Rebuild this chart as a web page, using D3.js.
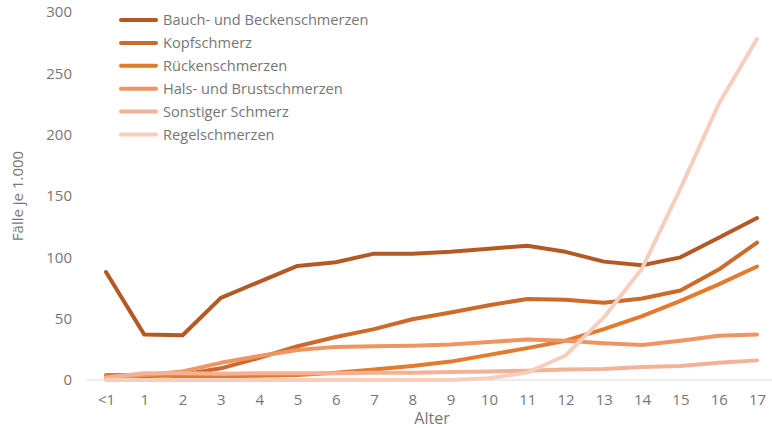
<!DOCTYPE html>
<html lang="de">
<head>
<meta charset="utf-8">
<title>Schmerzen nach Alter</title>
<script src="https://cdn.jsdelivr.net/npm/d3@7"></script>
<style>
  body { margin: 0; background: #fff; }
  .tick text, .lbl { font-family: "Open Sans", sans-serif; fill: #767676; }
</style>
</head>
<body>
<script>
var ages = ["<1","1","2","3","4","5","6","7","8","9","10","11","12","13","14","15","16","17"];
var names = ["Bauch- und Beckenschmerzen","Kopfschmerz","Rückenschmerzen","Hals- und Brustschmerzen","Sonstiger Schmerz","Regelschmerzen"];
var colors = ["#b35a24","#cc6a2a","#e47a2c","#ef9563","#f3b297","#f7cdbd"];

var bauch   = [88, 37, 36.5, 67, 80, 93, 96, 103, 103, 104.5, 107, 109.5, 104.5, 96.5, 93.5, 100, 116, 132];
var kopf    = [3, 3, 4.5, 9.5, 18, 27.5, 35, 41.5, 49.5, 55, 61, 66, 65.5, 63, 66.5, 73, 90, 112];
var ruecken = [4, 4, 3, 3, 3.5, 4, 6, 8.5, 11.5, 15, 20.5, 26, 32, 41.5, 52, 64.5, 78, 92.5];
var hals    = [1, 4, 7, 14, 19.5, 24.5, 27, 27.5, 28, 29, 31, 33, 32, 30, 28.5, 32, 36, 37];
var sonst   = [2, 5.5, 5.5, 5, 5.5, 5.5, 5.5, 6, 6, 6.5, 7, 7.5, 8.5, 9, 10.5, 11.5, 14, 16];
var regel   = [0, 0, 0, 0, 0, 0, 0, 0, 0, 0, 1.5, 6, 20, 51, 91, 156, 225, 278];
var series = [bauch, kopf, ruecken, hals, sonst, regel];
var yTicks = [0, 50, 100, 150, 200, 250, 300];

var w = 772, h = 428;
var svg = d3.select("body").append("svg").attr("width", w).attr("height", h);

var x = d3.scalePoint().domain(ages).range([106, 757]);
var y = d3.scaleLinear().domain([0, 300]).range([380, 12]);

// baseline
svg.append("line")
  .attr("x1", 87).attr("x2", 776)
  .attr("y1", y(0)).attr("y2", y(0))
  .attr("stroke", "#d9d9d9").attr("stroke-width", 1);

var yAxis = d3.axisLeft(y).tickValues(yTicks).tickSize(0).tickPadding(0);
var gy = svg.append("g").attr("transform", "translate(72,0)").call(yAxis);
gy.select(".domain").remove();
gy.selectAll("text").style("font-size", "15px");

var xAxis = d3.axisBottom(x).tickSize(0).tickPadding(0);
var gx = svg.append("g").attr("transform", "translate(0,394)").call(xAxis);
gx.select(".domain").remove();
gx.selectAll("text").style("font-size", "15px");

var line = d3.line()
  .x(function(d, i) { return x(ages[i]); })
  .y(function(d) { return y(d); });

series.forEach(function(s, k) {
  svg.append("path")
    .datum(s)
    .attr("d", line)
    .attr("fill", "none")
    .attr("stroke", colors[k])
    .attr("stroke-width", 4)
    .attr("stroke-linejoin", "round")
    .attr("stroke-linecap", "round");
});

// legend
var lg = svg.append("g");
names.forEach(function(n, k) {
  var yy = 20 + k * 22.9;
  lg.append("line")
    .attr("x1", 121).attr("x2", 156)
    .attr("y1", yy).attr("y2", yy)
    .attr("stroke", colors[k]).attr("stroke-width", 4)
    .attr("stroke-linecap", "round");
  lg.append("text").attr("class", "lbl")
    .attr("x", 163).attr("y", yy + 5)
    .style("font-size", "14.6px")
    .text(n);
});

svg.append("text").attr("class", "lbl")
  .attr("x", 432).attr("y", 424)
  .attr("text-anchor", "middle")
  .style("font-size", "16px")
  .text("Alter");

svg.append("text").attr("class", "lbl")
  .attr("transform", "translate(23,196) rotate(-90)")
  .attr("text-anchor", "middle")
  .style("font-size", "15px")
  .text("Fälle je 1.000");
</script>
</body>
</html>
